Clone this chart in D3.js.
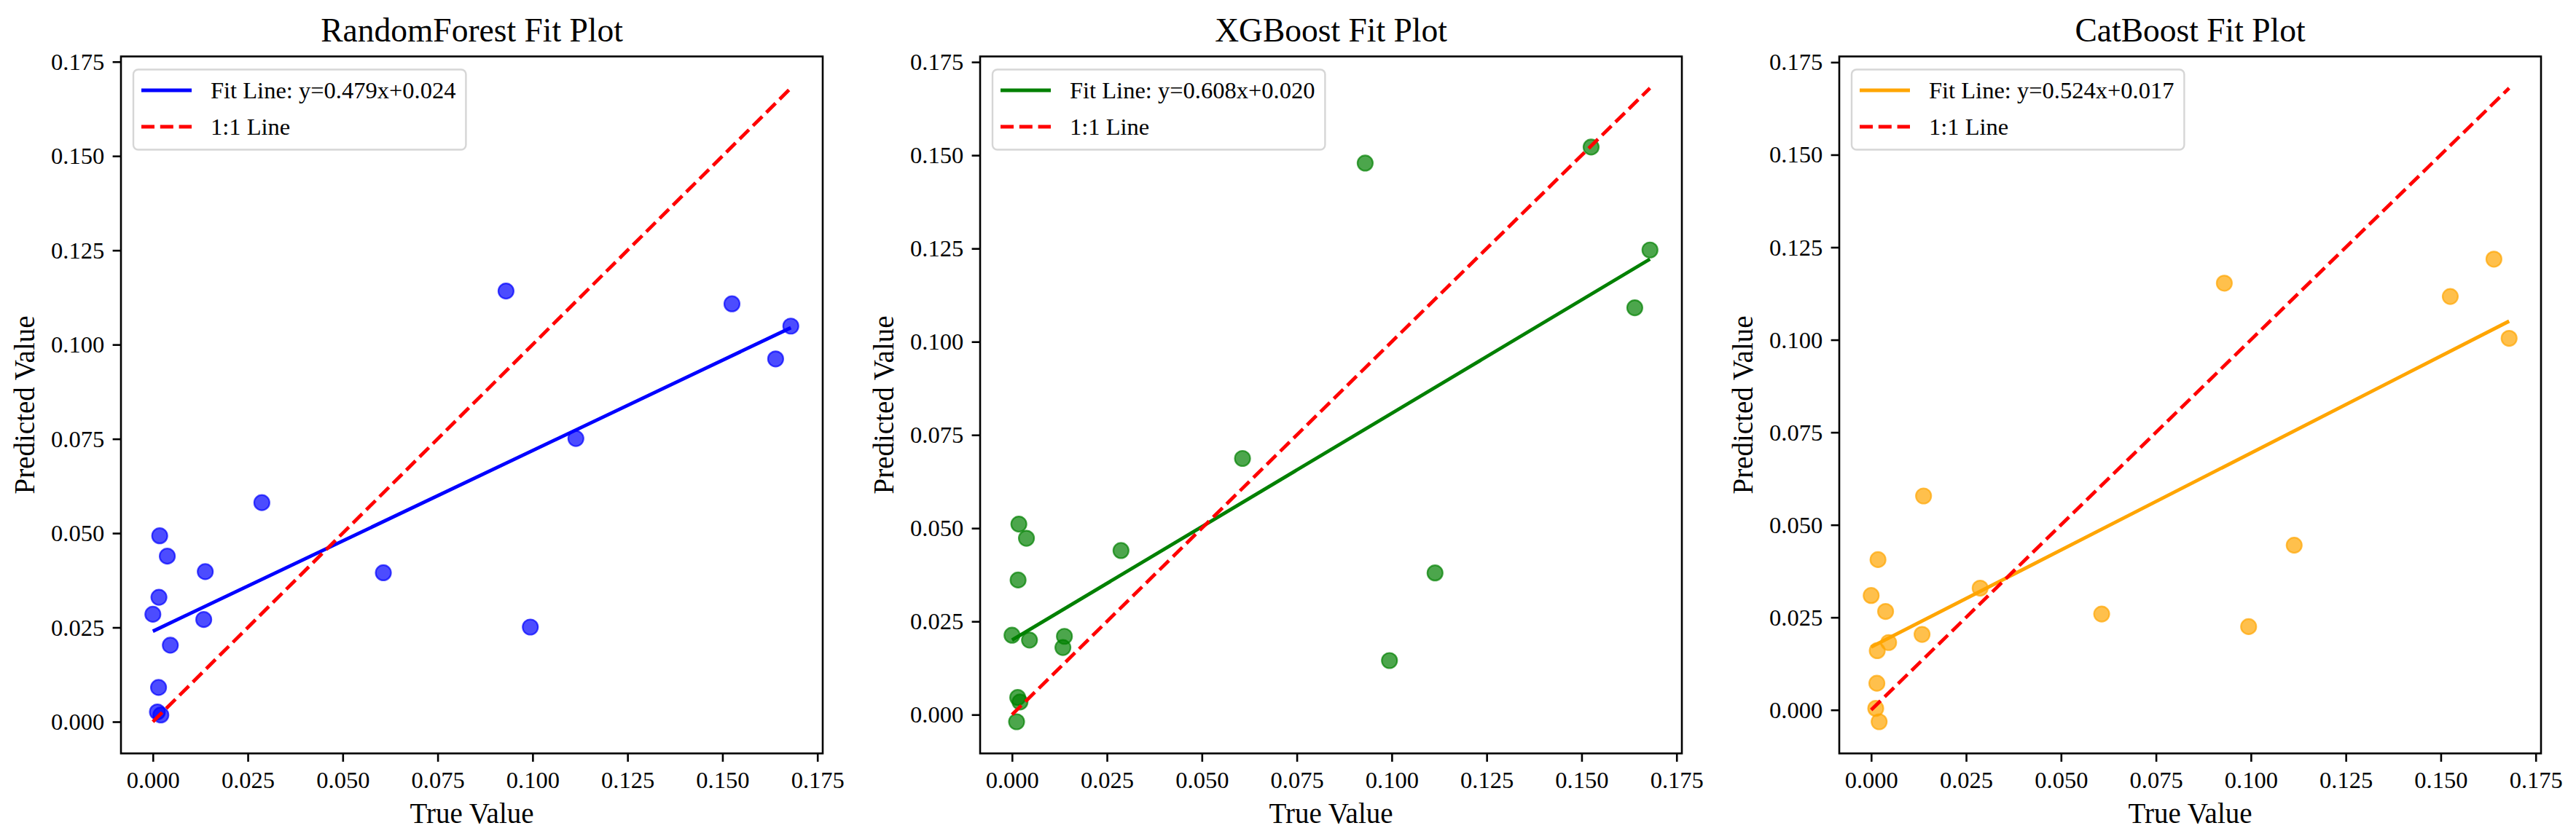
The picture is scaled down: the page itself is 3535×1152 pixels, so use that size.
<!DOCTYPE html>
<html>
<head>
<meta charset="utf-8">
<script src="https://cdn.jsdelivr.net/npm/d3@7"></script>
<style>
  html, body { margin: 0; padding: 0; background: #ffffff; }
  svg { display: block; }
  text { font-family: "Liberation Serif", "Times New Roman", serif; fill: #000; }
</style>
</head>
<body>
<svg id="chart" width="3535" height="1152"></svg>
<script>
// ---------------- data ----------------
const modelNames = ["RandomForest", "XGBoost", "CatBoost"];
const modelColors = ["#0000ff", "#008000", "#ffa500"];
const trueValues = [0.0930, 0.1525, 0.1680, 0.1640, 0.1114, 0.0287, 0.0018, 0.0038, 0.0138,
                    0.0607, 0.0016, 0.0000, 0.0134, 0.0994, 0.0046, 0.0015, 0.0012, 0.0021];
const predRandomForest = [0.1142, 0.1108, 0.1049, 0.0962, 0.0751, 0.0581, 0.0493, 0.0439, 0.0398,
                          0.0395, 0.0330, 0.0285, 0.0271, 0.0251, 0.0203, 0.0091, 0.0026, 0.0018];
const predXGBoost = [0.1479, 0.1522, 0.1246, 0.1091, 0.0380, 0.0440, 0.0511, 0.0473, 0.0210,
                     0.0687, 0.0361, 0.0213, 0.0180, 0.0145, 0.0200, 0.0046, -0.0019, 0.0034];
const predCatBoost = [0.1153, 0.1117, 0.1004, 0.1218, 0.0445, 0.0329, 0.0406, 0.0266, 0.0578,
                      0.0259, 0.0160, 0.0309, 0.0204, 0.0225, 0.0182, 0.0072, 0.0004, -0.0032];
const fitSlopes = [0.479, 0.608, 0.524];
const fitIntercepts = [0.024, 0.020, 0.017];
const tickValues = [0.000, 0.025, 0.050, 0.075, 0.100, 0.125, 0.150, 0.175];
const xLabel = "True Value";
const yLabel = "Predicted Value";
const identityLabel = "1:1 Line";

const predictions = [predRandomForest, predXGBoost, predCatBoost];

// ---------------- layout ----------------
const svg = d3.select("#chart");
const panelLefts = [166, 1345, 2524];
const plotW = 963, plotTop = 77.5, plotH = 957;
const FS_TICK = 32.5, FS_LABEL = 39, FS_TITLE = 45.5, FS_LEG = 32.5;
const fmt = d3.format(".3f");

function padded(lo, hi) {
  const m = (hi - lo) * 0.05;
  return [lo - m, hi + m];
}

modelNames.forEach((name, i) => {
  const preds = predictions[i];
  const color = modelColors[i];
  const left = panelLefts[i];
  const g = svg.append("g").attr("transform", `translate(${left},${plotTop})`);

  const tMin = d3.min(trueValues), tMax = d3.max(trueValues);
  const fitY0 = fitSlopes[i] * tMin + fitIntercepts[i];
  const fitY1 = fitSlopes[i] * tMax + fitIntercepts[i];
  const xDom = padded(tMin, tMax);
  const yLo = Math.min(d3.min(preds), tMin, fitY0, fitY1);
  const yHi = Math.max(d3.max(preds), tMax, fitY0, fitY1);
  const yDom = padded(yLo, yHi);

  const x = d3.scaleLinear().domain(xDom).range([0, plotW]);
  const y = d3.scaleLinear().domain(yDom).range([plotH, 0]);

  // scatter points
  g.append("g").selectAll("circle").data(trueValues).join("circle")
    .attr("cx", (d) => x(d))
    .attr("cy", (d, j) => y(preds[j]))
    .attr("r", 10.5)
    .attr("fill", color).attr("fill-opacity", 0.7)
    .attr("stroke", color).attr("stroke-opacity", 0.7).attr("stroke-width", 2.2);

  // fit line
  const line = d3.line().x((d) => x(d[0])).y((d) => y(d[1]));
  g.append("path")
    .attr("d", line([[tMin, fitY0], [tMax, fitY1]]))
    .attr("fill", "none").attr("stroke", color).attr("stroke-width", 4.8);

  // 1:1 line
  g.append("path")
    .attr("d", line([[tMin, tMin], [tMax, tMax]]))
    .attr("fill", "none").attr("stroke", "#ff0000").attr("stroke-width", 4.8)
    .attr("stroke-dasharray", "18,7.8");

  // axes
  const xAxis = d3.axisBottom(x).tickValues(tickValues).tickFormat(fmt)
    .tickSize(11.4).tickPadding(11.4);
  const yAxis = d3.axisLeft(y).tickValues(tickValues).tickFormat(fmt)
    .tickSize(11.4).tickPadding(11.4);

  const gx = g.append("g").attr("transform", `translate(0,${plotH})`).call(xAxis);
  const gy = g.append("g").call(yAxis);
  [gx, gy].forEach((ax) => {
    ax.select(".domain").remove();
    ax.selectAll(".tick line").attr("stroke", "#000").attr("stroke-width", 2.6);
    ax.selectAll(".tick text").attr("font-size", FS_TICK)
      .attr("font-family", "'Liberation Serif', 'Times New Roman', serif").attr("fill", "#000");
  });
  gx.selectAll(".tick text").attr("dy", null).attr("y", 47.5);
  gy.selectAll(".tick text").attr("dy", null).attr("y", 10.5);

  // frame
  g.append("rect").attr("x", 0).attr("y", 0).attr("width", plotW).attr("height", plotH)
    .attr("fill", "none").attr("stroke", "#000").attr("stroke-width", 2.6);

  // title
  svg.append("text")
    .attr("x", left + plotW / 2).attr("y", 57)
    .attr("text-anchor", "middle").attr("font-size", FS_TITLE)
    .text(`${name} Fit Plot`);

  // axis labels
  svg.append("text")
    .attr("x", left + plotW / 2).attr("y", 1130)
    .attr("text-anchor", "middle").attr("font-size", FS_LABEL)
    .text(xLabel);
  svg.append("text")
    .attr("transform", `translate(${left - 119},${plotTop + plotH / 2}) rotate(-90)`)
    .attr("text-anchor", "middle").attr("font-size", FS_LABEL)
    .text(yLabel);

  // legend
  const lg = g.append("g").attr("transform", "translate(17,18)");
  const box = lg.append("rect").attr("rx", 6.5).attr("ry", 6.5)
    .attr("fill", "#ffffff").attr("fill-opacity", 0.8)
    .attr("stroke", "#cccccc").attr("stroke-opacity", 0.8).attr("stroke-width", 2.4);
  const entries = [
    { label: `Fit Line: y=${fitSlopes[i].toFixed(3)}x+${fitIntercepts[i].toFixed(3)}`, color: color, dash: null },
    { label: identityLabel, color: "#ff0000", dash: "18,7.8" }
  ];
  let maxW = 0;
  entries.forEach((e, k) => {
    const cy = 28.5 + k * 50;
    lg.append("line").attr("x1", 11).attr("x2", 80).attr("y1", cy).attr("y2", cy)
      .attr("stroke", e.color).attr("stroke-width", 4.8)
      .attr("stroke-dasharray", e.dash);
    const t = lg.append("text").attr("x", 106).attr("y", cy + 11)
      .attr("font-size", FS_LEG).text(e.label);
    maxW = Math.max(maxW, t.node().getComputedTextLength());
  });
  box.attr("x", 0).attr("y", 0).attr("width", 106 + maxW + 14).attr("height", 110);
});
</script>
</body>
</html>
